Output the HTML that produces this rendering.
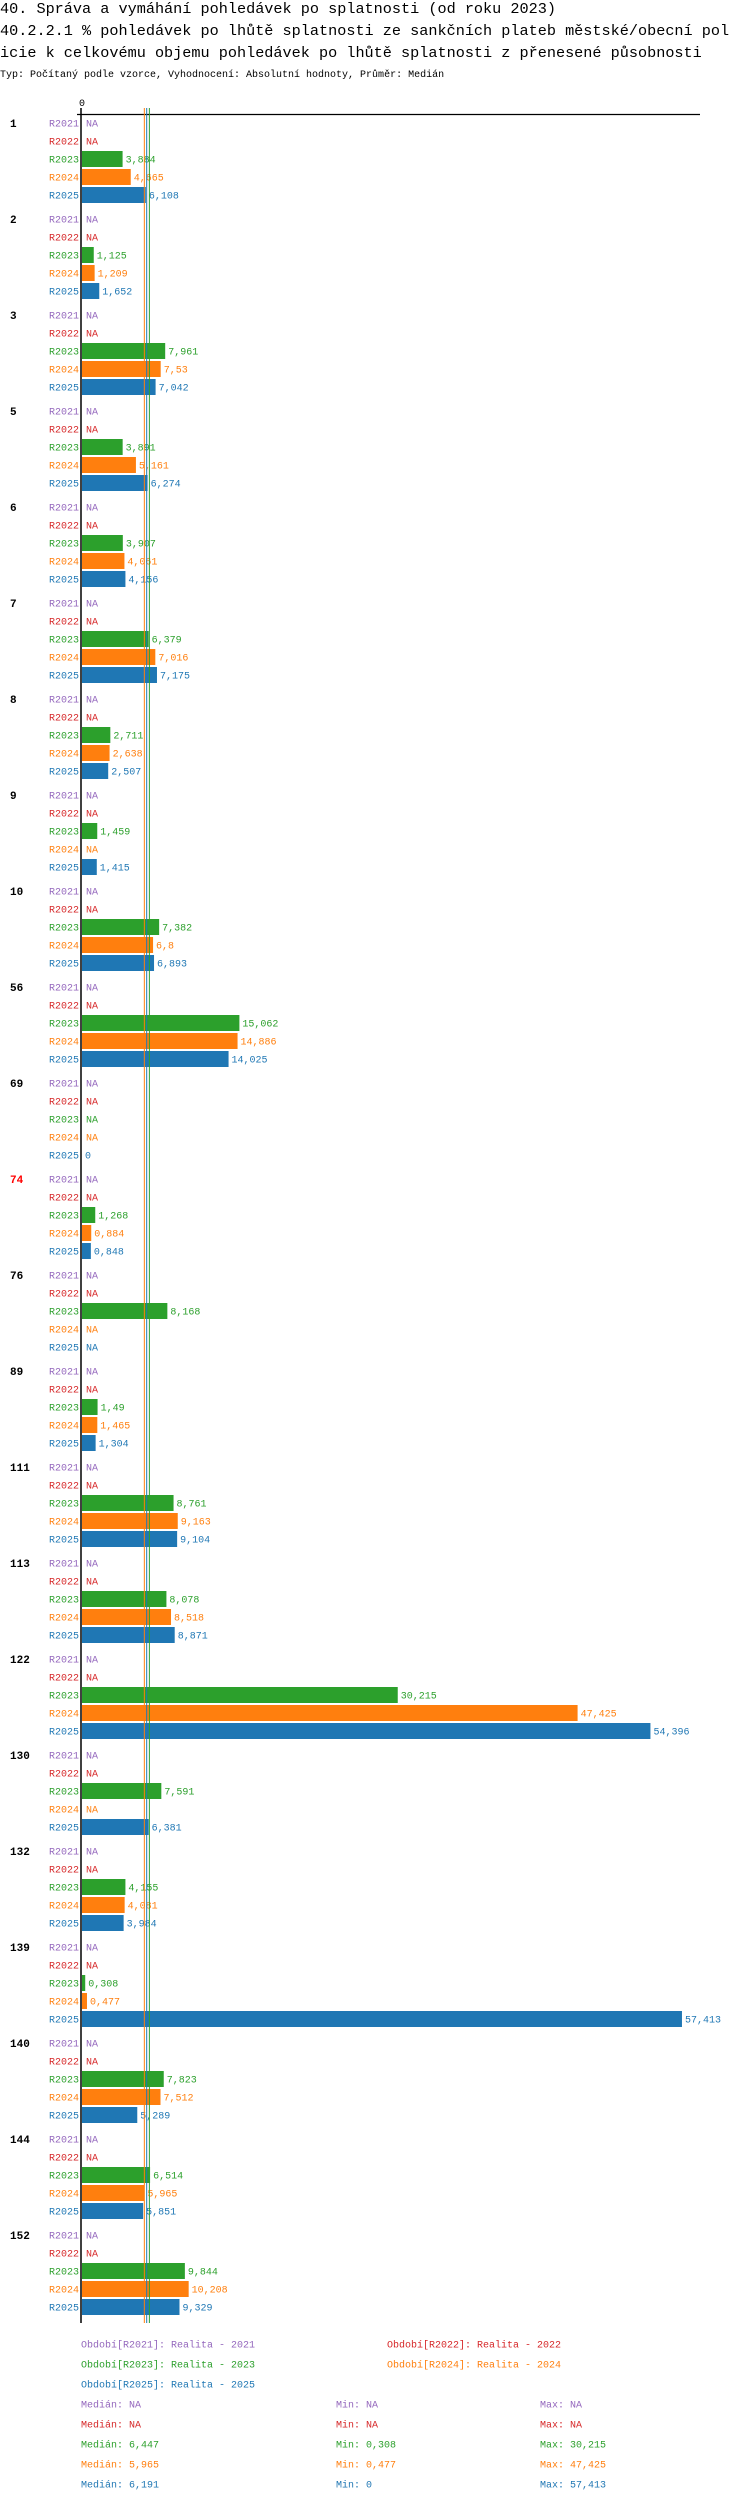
<!DOCTYPE html>
<html><head><meta charset="utf-8"><style>
html,body{margin:0;padding:0;background:#fff;}
svg{display:block;font-family:"Liberation Mono","DejaVu Sans Mono",monospace;}
</style></head><body>
<svg id="chart" width="750" height="2502" xmlns="http://www.w3.org/2000/svg">
<text x="0" y="13" font-size="15.2">40. Správa a vymáhání pohledávek po splatnosti (od roku 2023)</text>
<text x="0" y="35" font-size="15.2">40.2.2.1 % pohledávek po lhůtě splatnosti ze sankčních plateb městské/obecní  pol</text>
<text x="0" y="57" font-size="15.2">icie k celkovému objemu pohledávek po lhůtě splatnosti z přenesené působnosti</text>
<text x="0" y="77" font-size="10">Typ: Počítaný podle vzorce, Vyhodnocení: Absolutní hodnoty, Průměr: Medián</text>
<g id="plot"></g>
<g id="legend"></g>
</svg>
<script>
const groups = ["1","2","3","5","6","7","8","9","10","56","69","74","76","89","111","113","122","130","132","139","140","144","152"];
const seriesNames = ["R2021","R2022","R2023","R2024","R2025"];
const colors = ["#9467bd","#d62728","#2ca02c","#ff7f0e","#1f77b4"];
const r2021 = groups.map(()=>null);
const r2022 = groups.map(()=>null);
const r2023 = [3.884,1.125,7.961,3.891,3.907,6.379,2.711,1.459,7.382,15.062,null,1.268,8.168,1.49,8.761,8.078,30.215,7.591,4.155,0.308,7.823,6.514,9.844];
const r2024 = [4.665,1.209,7.53,5.161,4.061,7.016,2.638,null,6.8,14.886,null,0.884,null,1.465,9.163,8.518,47.425,null,4.081,0.477,7.512,5.965,10.208];
const r2025 = [6.108,1.652,7.042,6.274,4.156,7.175,2.507,1.415,6.893,14.025,0,0.848,null,1.304,9.104,8.871,54.396,6.381,3.984,57.413,5.289,5.851,9.329];
const medians = [null,null,6.447,5.965,6.191];
const mins = [null,null,0.308,0.477,0];
const maxs = [null,null,30.215,47.425,57.413];
const legendLabels = ["Období[R2021]: Realita - 2021","Období[R2022]: Realita - 2022","Období[R2023]: Realita - 2023","Období[R2024]: Realita - 2024","Období[R2025]: Realita - 2025"];

const NS="http://www.w3.org/2000/svg";
const series=[r2021,r2022,r2023,r2024,r2025];
const x0=82, unit=10.45;
const xs=v=>x0+v*unit;
const groupY=i=>123+i*96;
const fmt=v=>String(v).replace('.',',');
const plot=document.getElementById('plot');
const legend=document.getElementById('legend');
function mk(tag,attrs,parent){const e=document.createElementNS(NS,tag);for(const k in attrs)e.setAttribute(k,attrs[k]);parent.appendChild(e);return e;}

let t=mk('text',{x:x0,y:106,'font-size':10,'text-anchor':'middle'},plot);t.textContent='0';


let l=mk('line',{x1:77,y1:114.5,x2:700,y2:114.5,stroke:'#000','stroke-width':1.2},plot);



groups.forEach((g,i)=>{
  const gy=groupY(i);
  const gl=mk('text',{x:10,y:gy+4,'font-size':11,'font-weight':'bold',fill:g==='74'?'#ff0000':'#000'},plot);
  gl.textContent=g;
  
  
  series.forEach((s,j)=>{
    const cy=gy+j*18;
    const sl=mk('text',{x:79,y:cy+3.5,'font-size':10,'text-anchor':'end',fill:colors[j]},plot);
    sl.textContent=seriesNames[j];
    
    
    const v=s[i];
    let lx=x0+4;
    if(v!==null){
      const w=xs(v)-x0;
      if(w>0){
        const r=mk('rect',{x:x0,y:cy-8,width:w,height:16,fill:colors[j]},plot);
        
        
      }
      lx=xs(v)+3;
    }
    const vl=mk('text',{x:lx,y:cy+3.5,'font-size':10,fill:colors[j]},plot);
    vl.textContent=v===null?'NA':fmt(v);
    
    
  });
});
medians.forEach((m,j)=>{
  if(m===null)return;
  const ml=mk('line',{x1:xs(m),y1:108,x2:xs(m),y2:2323,stroke:colors[j],'stroke-width':1},plot);
  
  
});
const ax=mk('line',{x1:81,y1:108,x2:81,y2:2323,stroke:'#000','stroke-width':1.5},plot);



const legPos=[[81,2344],[387,2344],[81,2364],[387,2364],[81,2384]];
legendLabels.forEach((lab,j)=>{
  const e=mk('text',{x:legPos[j][0],y:legPos[j][1]+3.5,'font-size':10,fill:colors[j]},legend);
  e.textContent=lab;
  
  
});
const stat=v=>v===null?'NA':fmt(v);
seriesNames.forEach((n,j)=>{
  const y=2404+j*20+3.5;
  const a=mk('text',{x:81,y:y,'font-size':10,fill:colors[j]},legend);a.textContent='Medián: '+stat(medians[j]);
  
  
  const b=mk('text',{x:336,y:y,'font-size':10,fill:colors[j]},legend);b.textContent='Min: '+stat(mins[j]);
  
  
  const c=mk('text',{x:540,y:y,'font-size':10,fill:colors[j]},legend);c.textContent='Max: '+stat(maxs[j]);
  
  
});
</script>
</body></html>
